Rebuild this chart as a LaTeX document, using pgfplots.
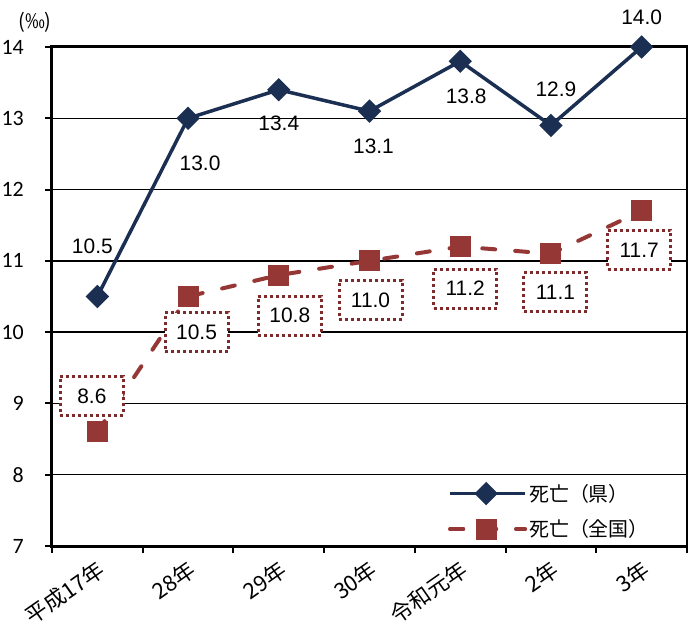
\documentclass[border=0pt]{standalone}
\usepackage{pgfplots}
\pgfplotsset{compat=1.18}
\usepackage{pgfplotstable}
\usepackage{fontspec}
\setmainfont{Carlito}
\newfontfamily\jp{Noto Sans CJK JP}
\newfontfamily\lab{Liberation Sans}
\usetikzlibrary{calc}

\definecolor{ken}{HTML}{1B2F52}
\definecolor{zen}{HTML}{953735}
\definecolor{zenbox}{HTML}{7F2B2B}

% x = category index, dx/dy = label offset from the point (bp, up is +)
\pgfplotstableread{
x y dx dy
0 10.5 -5 50
1 13.0 12 -45
2 13.4 0 -34
3 13.1 4 -35
4 13.8 6 -35
5 12.9 5 36
6 14.0 0 30
}\tabken

\pgfplotstableread{
x y dx dy
0 8.6 -5.5 36
1 10.5 8.5 -36
2 10.8 11 -40.5
3 11.0 1 -39
4 11.2 5 -42
5 11.1 4.5 -38.5
6 11.7 -2.5 -39
}\tabzen

\begin{document}
\begin{tikzpicture}
\begin{axis}[
  name=ax,
  scale only axis,
  width=635bp, height=499bp,
  xmin=-0.5, xmax=6.5, ymin=7, ymax=14,
  xtick={0,...,6},
  xticklabels={平成17年,28年,29年,30年,令和元年,2年,3年},
  minor xtick={-0.5,0.5,...,6.5},
  major x tick style={draw=none},
  ytick={7,...,14},
  ymajorgrids,
  grid style={black, line width=1.5bp},
  axis line style={black, line width=3bp},
  tick style={black, line width=2bp},
  tick align=outside,
  major tick length=7bp, minor tick length=7bp,
  xtick pos=left, ytick pos=left,
  /pgf/number format/assume math mode=true,
  yticklabel style={font=\fontsize{22}{24}\selectfont, anchor=east, inner xsep=0pt,
    xshift=-21bp},
  xticklabel style={font=\jp\fontsize{22}{24}\selectfont, rotate=35, anchor=east,
    yshift=-14bp, xshift=-4bp, inner sep=0pt},
  legend style={at={(rel axis cs:0.6236,0.128)}, anchor=north west, draw=none, fill=none,
    font=\jp\fontsize{20}{22}\selectfont, inner sep=0pt, row sep=13bp},
  legend cell align=left,
  legend image code/.code={
    \draw[#1, mark repeat=2, mark phase=2] plot coordinates {(0bp,0bp) (36bp,0bp) (72bp,0bp)};
    \path (0bp,0bp) -- (75bp,0bp);
  },
]
\addplot[ken, line width=3.5bp, mark=square*, mark size=6.5bp, mark options={rotate=45, solid},
  visualization depends on={\thisrow{dx} \as \labdx},
  visualization depends on={\thisrow{dy} \as \labdy},
  nodes near coords={\pgfmathprintnumber[fixed,zerofill,precision=1]{\pgfplotspointmeta}},
  nodes near coords style={font=\lab\fontsize{21}{24}\selectfont, text=black, anchor=center,
    xshift=\labdx bp, yshift=\labdy bp}]
  table[x=x, y=y] {\tabken};
\addlegendentry{死亡（県）}
\addplot[zen, line width=4bp, dash pattern=on 13bp off 20bp, line cap=round,
  mark=square*, mark size=8.5bp, mark options={solid},
  visualization depends on={\thisrow{dx} \as \labdx},
  visualization depends on={\thisrow{dy} \as \labdy},
  nodes near coords={\pgfmathprintnumber[fixed,zerofill,precision=1]{\pgfplotspointmeta}},
  nodes near coords style={font=\lab\fontsize{21}{24}\selectfont, text=black, anchor=center,
    xshift=\labdx bp, yshift=\labdy bp, draw=zenbox, fill=white, line width=3bp,
    dash pattern=on 3bp off 3bp, line cap=butt, minimum width=63bp, minimum height=39bp,
    inner sep=0pt}]
  table[x=x, y=y] {\tabzen};
\addlegendentry{死亡（全国）}
\end{axis}
\node[font=\jp\fontsize{20}{22}\selectfont] at ($(ax.north west)+(-17bp,25bp)$) {(‰)};
\pgfresetboundingbox
\path ($(ax.south west)+(-52bp,-82bp)$) rectangle ($(ax.north east)+(1bp,47bp)$);
\end{tikzpicture}
\end{document}
